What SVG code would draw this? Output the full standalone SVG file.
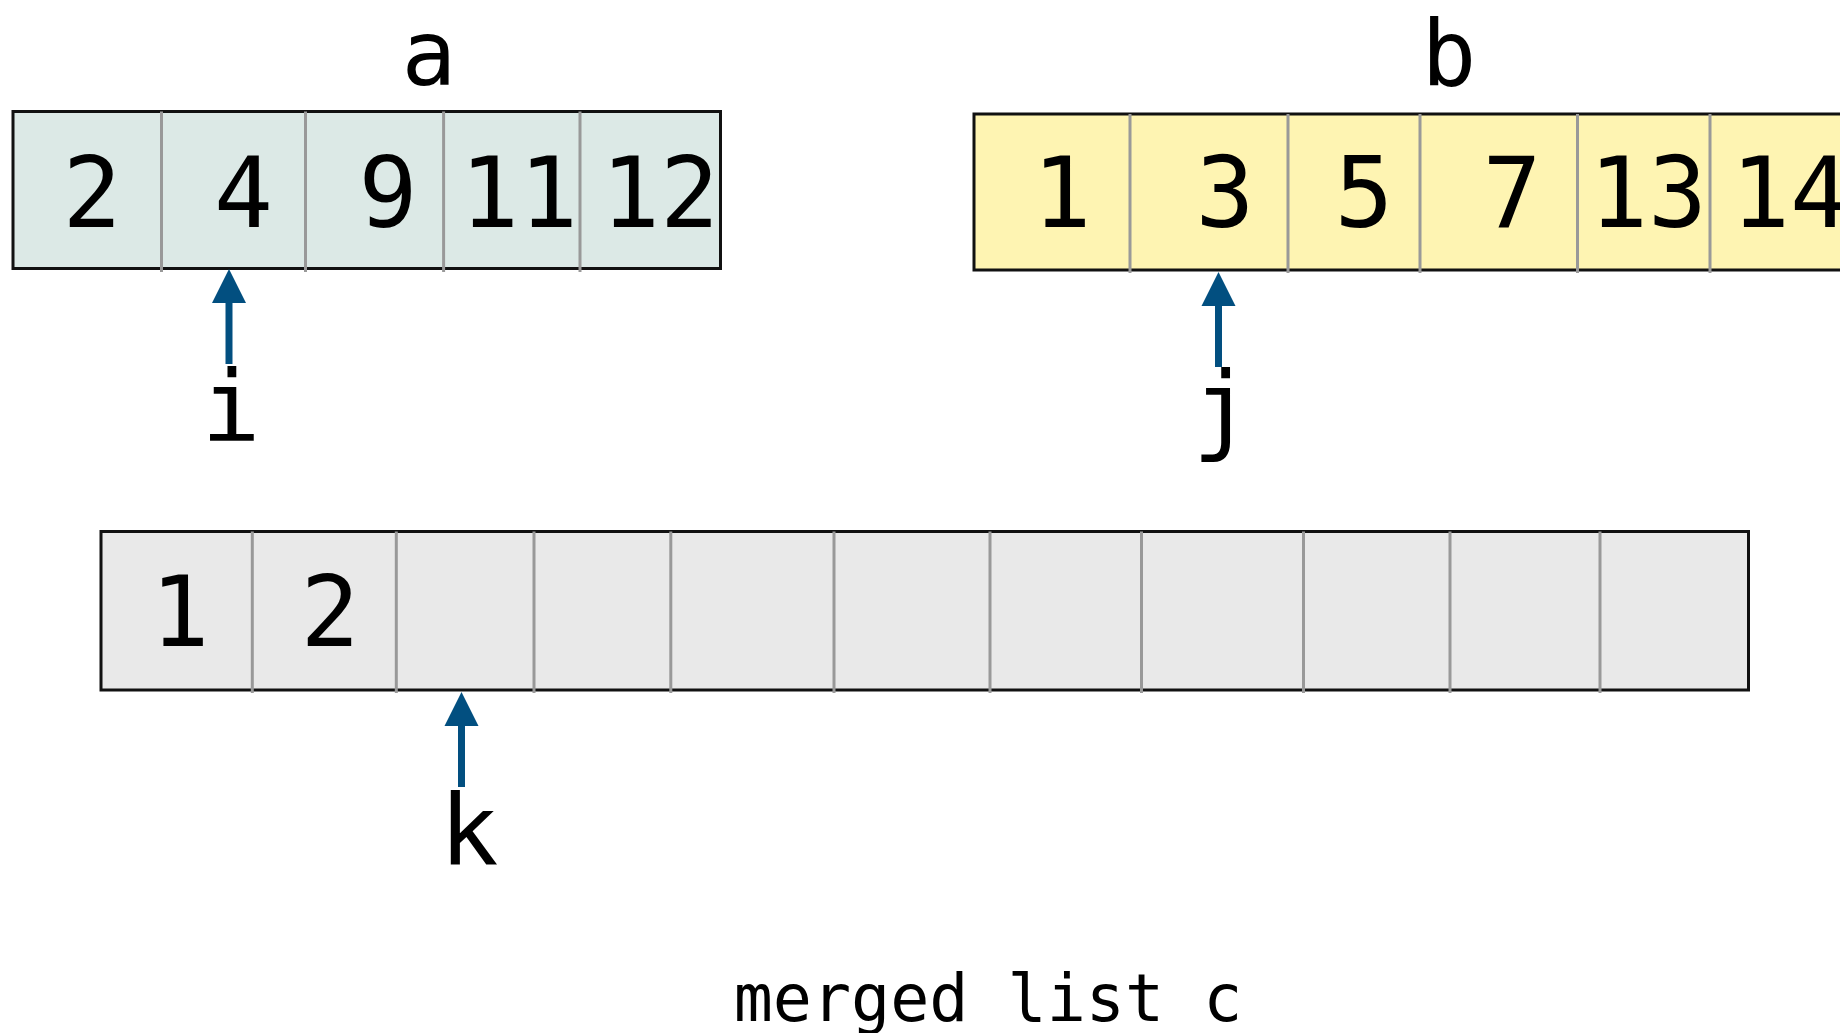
<svg xmlns="http://www.w3.org/2000/svg" width="1840" height="1033" viewBox="0 0 1840 1033">
  <style>
    .box { stroke: #111; stroke-width: 3; }
    .cell-a { fill: #dce9e6; }
    .cell-b { fill: #fef4b2; }
    .cell-c { fill: #e9e9e9; }
    .div { stroke: #999999; stroke-width: 3; }
    .num { font-family: "DejaVu Sans Mono", "Liberation Mono", monospace; font-size: 98px; fill: #000; text-anchor: middle; }
    .name { font-family: "DejaVu Sans Mono", "Liberation Mono", monospace; font-size: 98px; fill: #000; text-anchor: middle; }
    .title { font-family: "DejaVu Sans Mono", "Liberation Mono", monospace; font-size: 91px; fill: #000; text-anchor: middle; }
    .caption { font-family: "DejaVu Sans Mono", "Liberation Mono", monospace; font-size: 65px; fill: #000; text-anchor: middle; }
    .shaft { stroke: #024f80; stroke-width: 7; }
    .head { fill: #024f80; }
  </style>
  <rect width="1840" height="1033" fill="#ffffff"/>

  <!-- list a -->
  <g id="list-a">
    <rect class="box cell-a" x="13" y="111.5" width="707.5" height="157"/>
    <line class="div" x1="161.5" y1="111.5" x2="161.5" y2="272"/>
    <line class="div" x1="305.5" y1="111.5" x2="305.5" y2="272"/>
    <line class="div" x1="443.6" y1="111.5" x2="443.6" y2="272"/>
    <line class="div" x1="580" y1="111.5" x2="580" y2="272"/>
    <text class="num" x="92" y="226.5">2</text>
    <text class="num" x="243.5" y="226.5">4</text>
    <text class="num" x="388" y="226.5">9</text>
    <text class="num" x="519" y="226.5">11</text>
    <text class="num" x="660" y="226.5">12</text>
  </g>
  <g id="label-a"><text class="title" x="429" y="85">a</text></g>

  <!-- list b (runs past the right edge) -->
  <g id="list-b">
    <rect class="box cell-b" x="974" y="114" width="900" height="156"/>
    <line class="div" x1="1130" y1="114" x2="1130" y2="273"/>
    <line class="div" x1="1288" y1="114" x2="1288" y2="273"/>
    <line class="div" x1="1420" y1="114" x2="1420" y2="273"/>
    <line class="div" x1="1577.5" y1="114" x2="1577.5" y2="273"/>
    <line class="div" x1="1710" y1="114" x2="1710" y2="273"/>
    <text class="num" x="1062" y="226.5">1</text>
    <text class="num" x="1225" y="226.5">3</text>
    <text class="num" x="1364" y="226.5">5</text>
    <text class="num" x="1512" y="226.5">7</text>
    <text class="num" x="1648" y="226.5">13</text>
    <text class="num" x="1790" y="226.5">14</text>
  </g>
  <g id="label-b"><text class="title" x="1449" y="85">b</text></g>

  <!-- merged list c -->
  <g id="list-c">
    <rect class="box cell-c" x="101" y="531.5" width="1647.5" height="158.5"/>
    <line class="div" x1="252.3" y1="531.5" x2="252.3" y2="693"/>
    <line class="div" x1="396.3" y1="531.5" x2="396.3" y2="693"/>
    <line class="div" x1="534" y1="531.5" x2="534" y2="693"/>
    <line class="div" x1="670.8" y1="531.5" x2="670.8" y2="693"/>
    <line class="div" x1="834" y1="531.5" x2="834" y2="693"/>
    <line class="div" x1="990" y1="531.5" x2="990" y2="693"/>
    <line class="div" x1="1141.5" y1="531.5" x2="1141.5" y2="693"/>
    <line class="div" x1="1303.5" y1="531.5" x2="1303.5" y2="693"/>
    <line class="div" x1="1450" y1="531.5" x2="1450" y2="693"/>
    <line class="div" x1="1600" y1="531.5" x2="1600" y2="693"/>
    <text class="num" x="180" y="646">1</text>
    <text class="num" x="330" y="646">2</text>
  </g>
  <g id="caption-c"><text class="caption" x="988" y="1021">merged list c</text></g>

  <!-- index labels -->
  <g id="index-i"><text class="name" x="231" y="441">i</text></g>
  <g id="index-j"><text class="name" x="1222" y="442">j</text></g>
  <g id="index-k"><text class="name" x="469" y="865">k</text></g>

  <!-- index pointers -->
  <g id="connectors">
    <line class="shaft" x1="229" y1="364" x2="229" y2="300"/>
    <polygon class="head" points="229,269 246,303 212,303"/>
    <line class="shaft" x1="1218.5" y1="367" x2="1218.5" y2="303"/>
    <polygon class="head" points="1218.5,272 1235.5,306 1201.5,306"/>
    <line class="shaft" x1="461.5" y1="787" x2="461.5" y2="723"/>
    <polygon class="head" points="461.5,692 478.5,726 444.5,726"/>
  </g>
</svg>
